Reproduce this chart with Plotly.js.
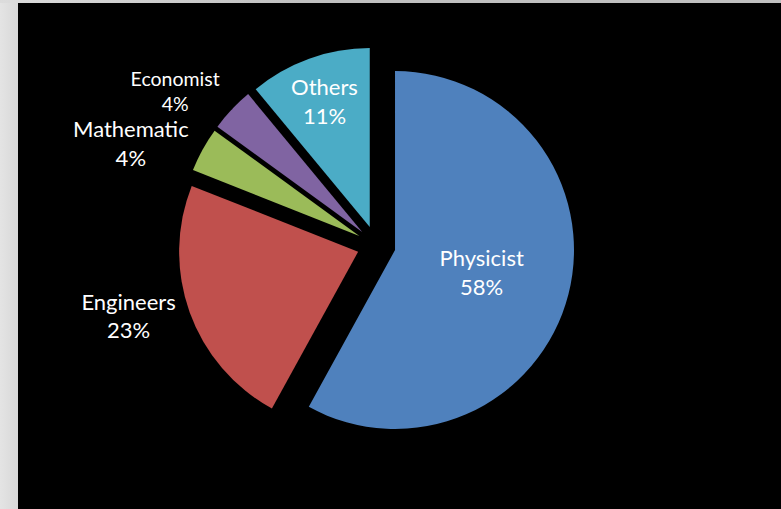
<!DOCTYPE html>
<html>
<head>
<meta charset="utf-8">
<script src="https://cdn.plot.ly/plotly-3.0.1.min.js"></script>
<style>
  html, body { margin: 0; padding: 0; width: 781px; height: 509px; overflow: hidden; }
  body { background: linear-gradient(to right, #e4e4e4, #d8d8d8 18px); position: relative; }
  #top { position: absolute; left: 0; top: 0; width: 781px; height: 3px; background: linear-gradient(to right, #dcdcdc, #c0c0c0 300px); }
  #chart { position: absolute; left: 18px; top: 3px; width: 763px; height: 506px; }
</style>
</head>
<body>
<div id="top"></div>
<div id="chart"></div>
<script>
const categories = ["Physicist", "Engineers", "Mathematic", "Economist", "Others"];
const values = [58, 23, 4, 4, 11];
const colors = ["#4f81bd", "#c0504d", "#9bbb59", "#8064a2", "#4bacc6"];
const textPositions = ["inside", "outside", "outside", "outside", "inside"];
const textSizes = [22, 22, 22, 19.5, 22];
const textColors = ["#ffffff", "#ffffff", "#ffffff", "#ffffff", "#ffffff"];

const trace = {
  type: "pie",
  labels: categories,
  values: values,
  sort: false,
  direction: "clockwise",
  rotation: 0,
  pull: 0.108,
  marker: { colors: colors, line: { width: 0 } },
  texttemplate: "%{label}<br>%{percent}",
  textposition: textPositions,
  textfont: { family: "Lato, sans-serif", size: textSizes, color: textColors },
  insidetextorientation: "horizontal",
  hoverinfo: "none",
  domain: { x: [0.2097, 0.7295], y: [0.1294, 0.9132] }
};

const layout = {
  width: 763,
  height: 506,
  margin: { l: 0, r: 0, t: 0, b: 0 },
  paper_bgcolor: "#000000",
  showlegend: false,
  font: { family: "Lato, sans-serif", color: "#ffffff" }
};

Plotly.newPlot("chart", [trace], layout, { displayModeBar: false, staticPlot: true });
</script>
</body>
</html>
